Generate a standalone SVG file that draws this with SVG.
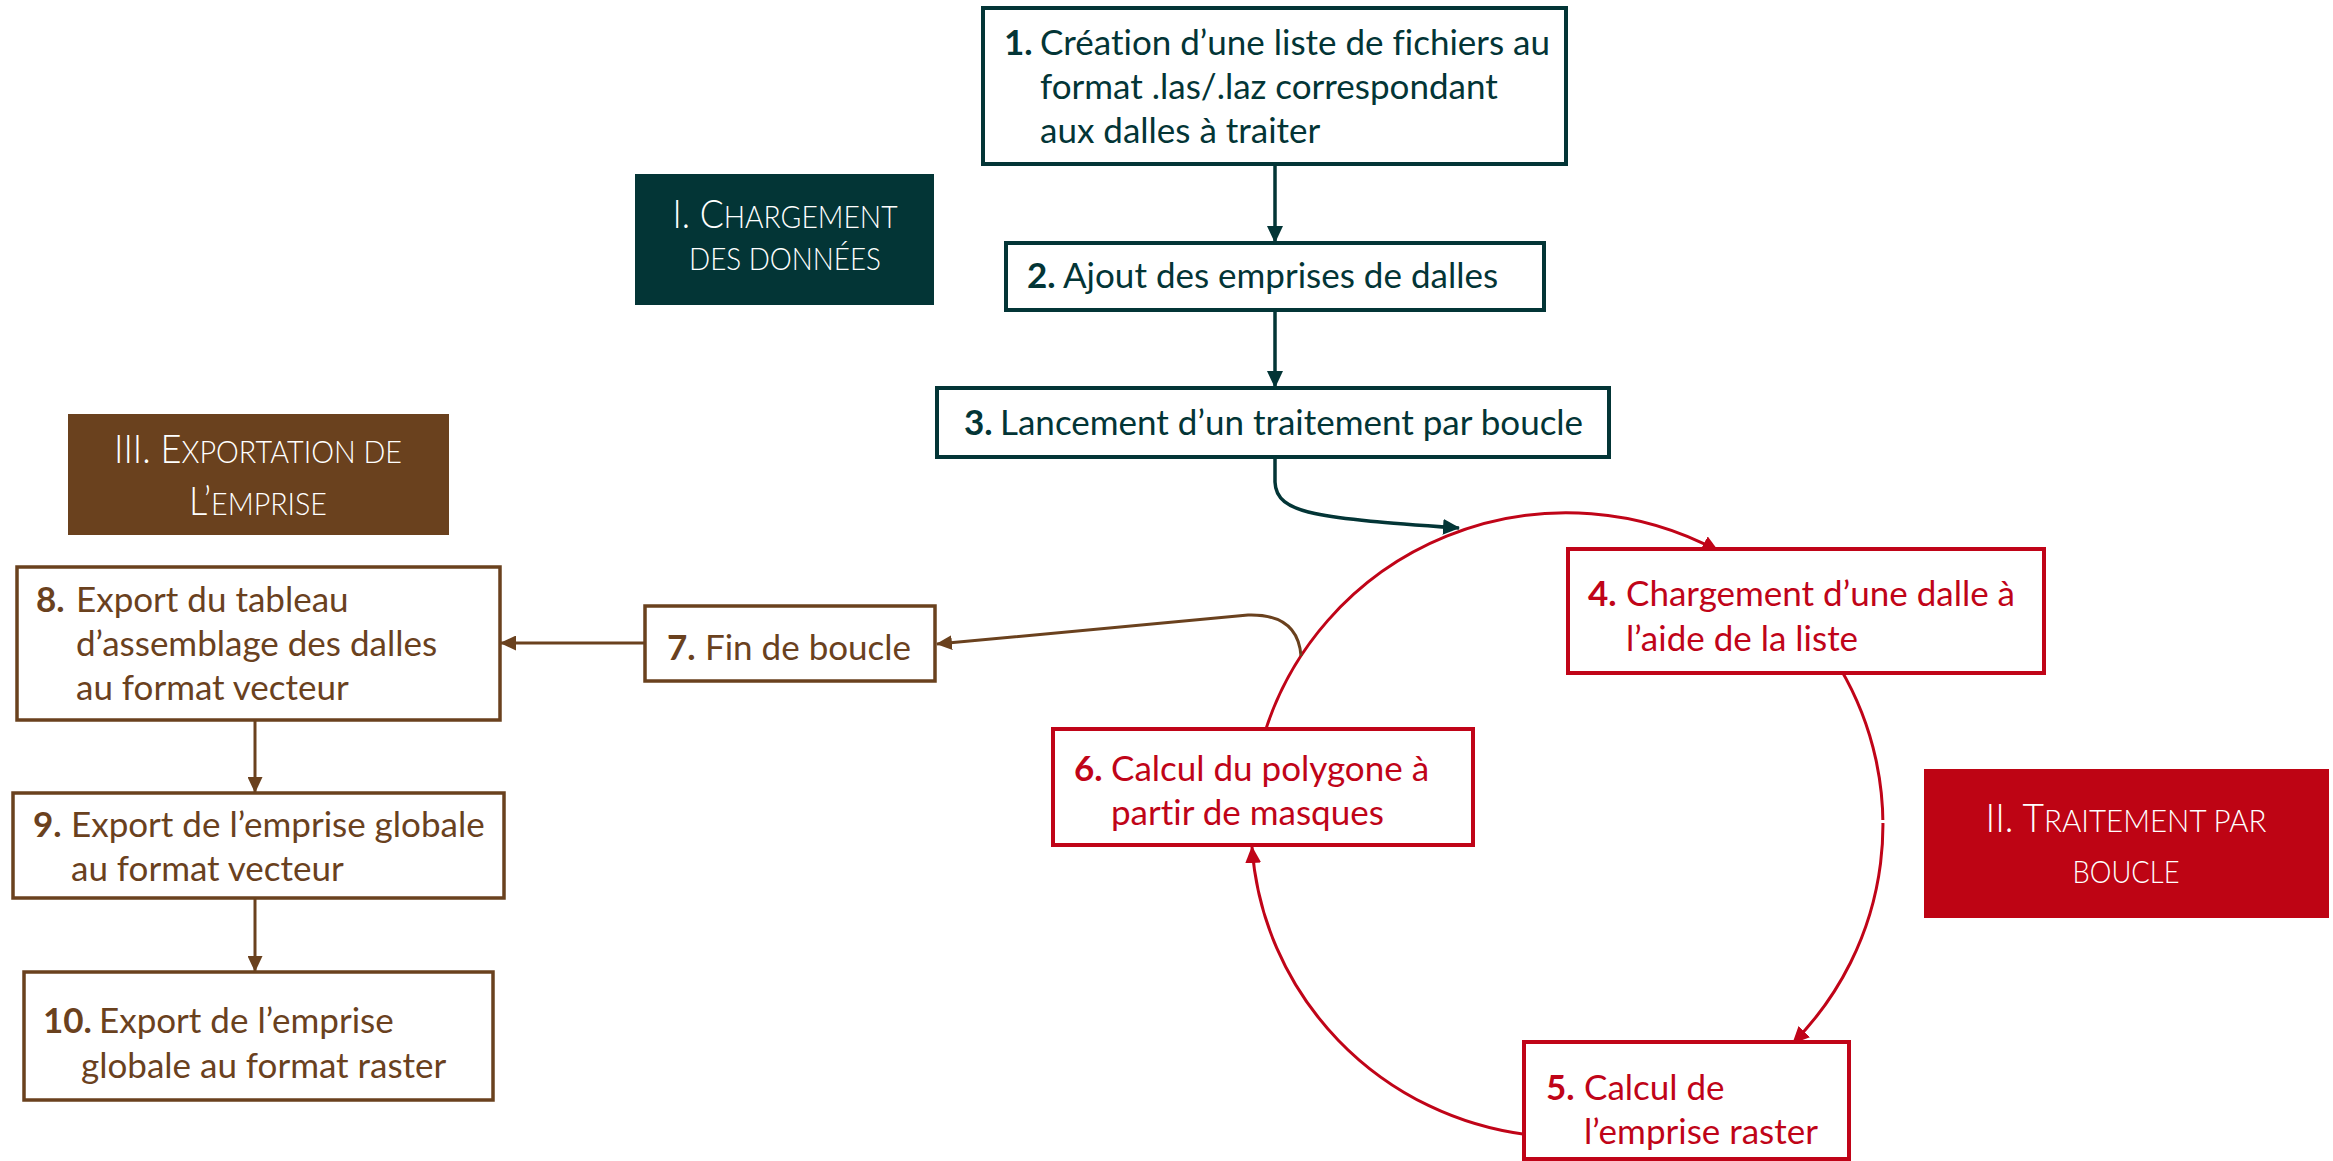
<svg xmlns="http://www.w3.org/2000/svg" width="2333" height="1161" viewBox="0 0 2333 1161">
<defs>
<style>
text{font-variant-ligatures:none}
.t{font-family:Lato,"Liberation Sans",sans-serif;font-size:35px}
.b{font-weight:700}
.h{font-family:Lato,"Liberation Sans",sans-serif;font-weight:300;fill:#ffffff}
.big{font-size:39px}
.sm{font-size:31px}
.cT{fill:#033536}
.cR{fill:#C00418}
.cB{fill:#6A411E}
.nT{fill:#ffffff;stroke:#033536;stroke-width:4}
.nR{fill:#ffffff;stroke:#C00418;stroke-width:4}
.nB{fill:#ffffff;stroke:#6A411E;stroke-width:3.5}
.eT{fill:none;stroke:#033536;stroke-width:3.5}
.eR{fill:none;stroke:#C00418;stroke-width:3}
.eB{fill:none;stroke:#6A411E;stroke-width:3}
</style>
<marker id="aT" markerUnits="userSpaceOnUse" markerWidth="17" markerHeight="16" viewBox="0 0 17 16" refX="16" refY="8" orient="auto"><path d="M0,0 L17,8 L0,16 z" fill="#033536"/></marker>
<marker id="aR" markerUnits="userSpaceOnUse" markerWidth="17" markerHeight="16" viewBox="0 0 17 16" refX="16" refY="8" orient="auto"><path d="M0,0 L17,8 L0,16 z" fill="#C00418"/></marker>
<marker id="aB" markerUnits="userSpaceOnUse" markerWidth="16" markerHeight="15" viewBox="0 0 16 15" refX="15" refY="7.5" orient="auto"><path d="M0,0 L16,7.5 L0,15 z" fill="#6A411E"/></marker>
</defs>
<rect width="2333" height="1161" fill="#ffffff"/>

<g id="connectors">
<path class="eT" d="M1275,165 V242" marker-end="url(#aT)"/>
<path class="eT" d="M1275,310 V387" marker-end="url(#aT)"/>
<path class="eT" d="M1275,457 L1275,482 C1276,515 1320,518 1459,528" marker-end="url(#aT)"/>
<path class="eR" d="M1264,735 A316,312 0 0 1 1718,551" marker-end="url(#aR)"/>
<path class="eR" d="M1840,668 A316,312 0 0 1 1793,1043" marker-end="url(#aR)"/>
<path class="eR" d="M1530,1135 A316,312 0 0 1 1252,847" marker-end="url(#aR)"/>
<rect x="1879" y="820" width="9" height="3" fill="#ffffff"/>
<path class="eB" d="M1301,656 C1299,628 1282,614 1248,615 L937,644" marker-end="url(#aB)"/>
<path class="eB" d="M645,643 H501" marker-end="url(#aB)"/>
<path class="eB" d="M255,721 V792" marker-end="url(#aB)"/>
<path class="eB" d="M255,898 V971" marker-end="url(#aB)"/>
</g>

<g id="label-I">
<rect x="635" y="174" width="299" height="131" fill="#033536"/>
<text class="h" x="785" y="228" text-anchor="middle" textLength="225" lengthAdjust="spacingAndGlyphs"><tspan class="big">I. C</tspan><tspan class="sm">HARGEMENT</tspan></text>
<text class="h sm" x="785" y="270" text-anchor="middle" textLength="192" lengthAdjust="spacingAndGlyphs">DES DONNÉES</text>
</g>

<g id="label-II">
<rect x="1924" y="769" width="405" height="149" fill="#BE0414"/>
<text class="h" x="2126" y="832" text-anchor="middle" textLength="281" lengthAdjust="spacingAndGlyphs"><tspan class="big">II. T</tspan><tspan class="sm">RAITEMENT PAR</tspan></text>
<text class="h sm" x="2126" y="883" text-anchor="middle" textLength="107" lengthAdjust="spacingAndGlyphs">BOUCLE</text>
</g>

<g id="label-III">
<rect x="68" y="414" width="381" height="121" fill="#6A411E"/>
<text class="h" x="258" y="463" text-anchor="middle" textLength="288" lengthAdjust="spacingAndGlyphs"><tspan class="big">III. E</tspan><tspan class="sm">XPORTATION DE</tspan></text>
<text class="h" x="258" y="515" text-anchor="middle" textLength="138" lengthAdjust="spacingAndGlyphs"><tspan class="big">L’</tspan><tspan class="sm">EMPRISE</tspan></text>
</g>

<g id="node-1">
<rect class="nT" x="983" y="8" width="583" height="156"/>
<text class="t cT"><tspan class="b" x="1004" y="55">1.</tspan><tspan x="1040" y="55">Création d’une liste de fichiers au</tspan><tspan x="1040" y="99">format .las/.laz correspondant</tspan><tspan x="1040" y="143">aux dalles à traiter</tspan></text>
</g>
<g id="node-2">
<rect class="nT" x="1006" y="243" width="538" height="67"/>
<text class="t cT"><tspan class="b" x="1027" y="288">2.</tspan><tspan x="1063" y="288">Ajout des emprises de dalles</tspan></text>
</g>
<g id="node-3">
<rect class="nT" x="937" y="388" width="672" height="69"/>
<text class="t cT"><tspan class="b" x="964" y="435">3.</tspan><tspan x="1000" y="435">Lancement d’un traitement par boucle</tspan></text>
</g>
<g id="node-4">
<rect class="nR" x="1568" y="549" width="476" height="124"/>
<text class="t cR"><tspan class="b" x="1588" y="606">4.</tspan><tspan x="1626" y="606">Chargement d’une dalle à</tspan><tspan x="1626" y="651">l’aide de la liste</tspan></text>
</g>
<g id="node-5">
<rect class="nR" x="1524" y="1042" width="325" height="117"/>
<text class="t cR"><tspan class="b" x="1546" y="1100">5.</tspan><tspan x="1584" y="1100">Calcul de</tspan><tspan x="1584" y="1144">l’emprise raster</tspan></text>
</g>
<g id="node-6">
<rect class="nR" x="1053" y="729" width="420" height="116"/>
<text class="t cR"><tspan class="b" x="1074" y="781">6.</tspan><tspan x="1111" y="781">Calcul du polygone à</tspan><tspan x="1111" y="825">partir de masques</tspan></text>
</g>
<g id="node-7">
<rect class="nB" x="645" y="606" width="290" height="75"/>
<text class="t cB"><tspan class="b" x="667" y="660">7.</tspan><tspan x="705" y="660">Fin de boucle</tspan></text>
</g>
<g id="node-8">
<rect class="nB" x="17" y="567" width="483" height="153"/>
<text class="t cB"><tspan class="b" x="36" y="612">8.</tspan><tspan x="76" y="612">Export du tableau</tspan><tspan x="76" y="656">d’assemblage des dalles</tspan><tspan x="76" y="700">au format vecteur</tspan></text>
</g>
<g id="node-9">
<rect class="nB" x="13" y="793" width="491" height="105"/>
<text class="t cB"><tspan class="b" x="33" y="837">9.</tspan><tspan x="71" y="837">Export de l’emprise globale</tspan><tspan x="71" y="881">au format vecteur</tspan></text>
</g>
<g id="node-10">
<rect class="nB" x="24" y="972" width="469" height="128"/>
<text class="t cB"><tspan class="b" x="43" y="1033">10.</tspan><tspan x="99" y="1033">Export de l’emprise</tspan><tspan x="81" y="1078">globale au format raster</tspan></text>
</g>
</svg>
